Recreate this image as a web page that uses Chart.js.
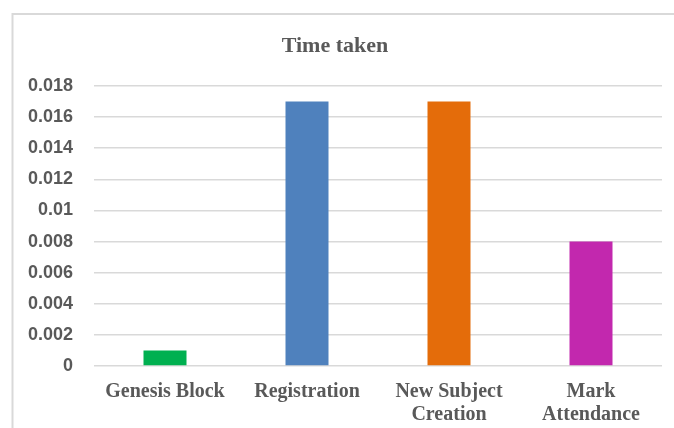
<!DOCTYPE html>
<html>
<head>
<meta charset="utf-8">
<script src="https://cdn.jsdelivr.net/npm/chart.js@4/dist/chart.umd.min.js"></script>
<style>
  html, body { margin: 0; padding: 0; background: #ffffff; }
  #c { display: block; }
</style>
</head>
<body>
<canvas id="c" width="674" height="428"></canvas>
<script>
// Operations and the time each one took
const categories = [["Genesis Block"], ["Registration"], ["New Subject", "Creation"], ["Mark", "Attendance"]];
const timeTaken = [0.001, 0.017, 0.017, 0.008];
const barColors = ["#00b050", "#4f81bd", "#e46c0a", "#c228ae"];
const yMin = 0, yMax = 0.018, yStep = 0.002;
const chartTitle = "Time taken";

const TEXT = "#595959";
const GRID = "#d9d9d9";

// Frame lines and title drawn straight onto the canvas
const decor = {
  id: "decor",
  beforeDraw(chart) {
    const ctx = chart.ctx;
    ctx.save();
    ctx.fillStyle = "#ffffff";
    ctx.fillRect(0, 0, chart.width, chart.height);
    ctx.strokeStyle = GRID;
    ctx.lineWidth = 2;
    ctx.beginPath();
    ctx.moveTo(12.5, chart.height);
    ctx.lineTo(12.5, 14);
    ctx.lineTo(chart.width, 14);
    ctx.stroke();
    ctx.restore();
  },
  afterDraw(chart) {
    const ctx = chart.ctx;
    ctx.save();
    ctx.font = 'bold 22px "Liberation Serif", "Times New Roman", serif';
    ctx.fillStyle = TEXT;
    ctx.textAlign = "center";
    ctx.textBaseline = "alphabetic";
    ctx.fillText(chartTitle, 335, 52);
    ctx.restore();
  }
};

new Chart(document.getElementById("c"), {
  type: "bar",
  data: {
    labels: categories,
    datasets: [{
      data: timeTaken,
      backgroundColor: barColors,
      borderWidth: 0,
      categoryPercentage: 1.0,
      barPercentage: 43 / 142
    }]
  },
  options: {
    responsive: false,
    animation: false,
    devicePixelRatio: 1,
    layout: { padding: { top: 86, right: 12, bottom: 0, left: 0 } },
    plugins: {
      legend: { display: false },
      title: { display: false },
      tooltip: { enabled: false }
    },
    scales: {
      x: {
        grid: { display: false, drawTicks: false },
        border: { display: false },
        ticks: {
          color: TEXT,
          padding: 14,
          maxRotation: 0,
          autoSkip: false,
          font: { family: '"Liberation Serif", "Times New Roman", serif', size: 20, weight: "bold", lineHeight: 1.15 }
        },
        afterFit(scale) { scale.height = 62; }
      },
      y: {
        min: yMin,
        max: yMax,
        grid: { color: GRID, lineWidth: 1.5, drawTicks: false },
        border: { display: false },
        ticks: {
          stepSize: yStep,
          color: TEXT,
          padding: 21,
          font: { family: '"Liberation Sans", Arial, sans-serif', size: 18, weight: "bold" },
          callback: (v) => String(+Number(v).toFixed(3))
        },
        afterFit(scale) { scale.width = 94; }
      }
    }
  },
  plugins: [decor]
});
</script>
</body>
</html>
